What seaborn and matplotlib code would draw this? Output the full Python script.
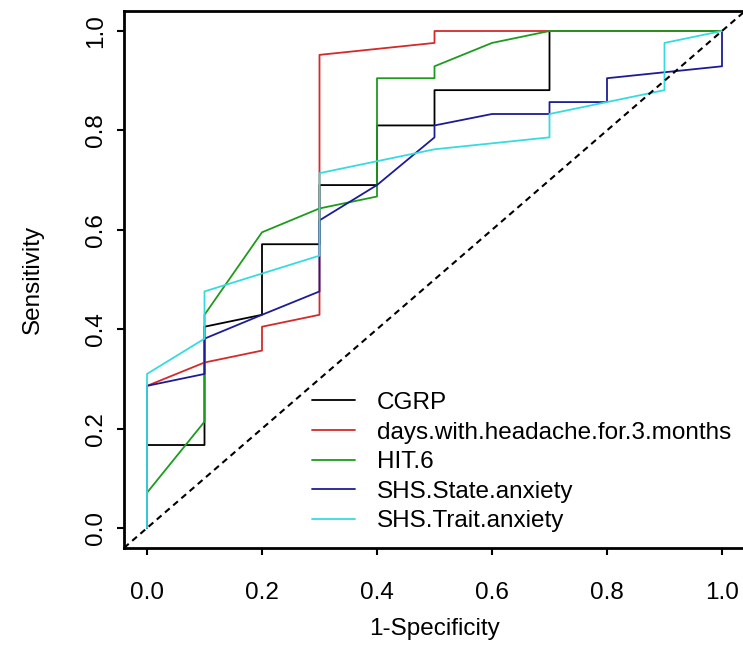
import pandas as pd
import seaborn as sns
import matplotlib
matplotlib.use("Agg")
import matplotlib.pyplot as plt

# ROC curves (1-specificity, sensitivity)
markers = ["CGRP", "days.with.headache.for.3.months", "HIT.6",
           "SHS.State.anxiety", "SHS.Trait.anxiety"]
colors = ["#000000", "#d42a2a", "#1e9b1e", "#1c1c96", "#36dcdc"]

cgrp_fpr = [0, 0, 0.1, 0.1, 0.2, 0.2, 0.3, 0.3, 0.4, 0.4, 0.5, 0.5, 0.7, 0.7, 1.0]
cgrp_tpr = [0, 0.167, 0.167, 0.405, 0.429, 0.571, 0.571, 0.690, 0.690, 0.810, 0.810, 0.881, 0.881, 1.0, 1.0]

days_fpr = [0, 0, 0.1, 0.2, 0.2, 0.3, 0.3, 0.5, 0.5, 1.0]
days_tpr = [0, 0.286, 0.333, 0.357, 0.405, 0.429, 0.952, 0.976, 1.0, 1.0]

hit_fpr = [0, 0, 0.1, 0.1, 0.2, 0.3, 0.4, 0.4, 0.5, 0.5, 0.6, 0.7, 1.0]
hit_tpr = [0, 0.071, 0.214, 0.429, 0.595, 0.643, 0.667, 0.905, 0.905, 0.929, 0.976, 1.0, 1.0]

state_fpr = [0, 0, 0.1, 0.1, 0.2, 0.3, 0.3, 0.4, 0.5, 0.5, 0.6, 0.7, 0.7, 0.8, 0.8, 1.0, 1.0]
state_tpr = [0, 0.286, 0.310, 0.381, 0.429, 0.476, 0.619, 0.690, 0.786, 0.810, 0.833, 0.833, 0.857, 0.857, 0.905, 0.929, 1.0]

trait_fpr = [0, 0, 0.1, 0.1, 0.3, 0.3, 0.5, 0.7, 0.7, 0.9, 0.9, 1.0]
trait_tpr = [0, 0.310, 0.381, 0.476, 0.548, 0.714, 0.762, 0.786, 0.833, 0.881, 0.976, 1.0]

ticks = [0.0, 0.2, 0.4, 0.6, 0.8, 1.0]

all_fpr = [cgrp_fpr, days_fpr, hit_fpr, state_fpr, trait_fpr]
all_tpr = [cgrp_tpr, days_tpr, hit_tpr, state_tpr, trait_tpr]
frames = []
for name, f, t in zip(markers, all_fpr, all_tpr):
    frames.append(pd.DataFrame({"fpr": f, "tpr": t, "marker": name}))
df = pd.concat(frames, ignore_index=True)

sns.set_style("ticks", {"text.color": "black", "axes.labelcolor": "black",
                        "xtick.color": "black", "ytick.color": "black",
                        "axes.edgecolor": "black"})
plt.rcParams["font.family"] = ["Liberation Sans", "DejaVu Sans"]
fs = 17.5

fig = plt.figure(figsize=(7.43, 6.64), dpi=100)
ax = fig.add_axes([0.16689, 0.17485, 0.8358, 0.8084])

sns.lineplot(data=df, x="fpr", y="tpr", hue="marker", hue_order=markers,
             palette=colors, estimator=None, sort=False, linewidth=1.3, ax=ax)
ax.axline((0, 0), (1, 1), color="black", linestyle=(0, (3, 2.2)), linewidth=1.5)

ax.set_xlim(-0.04, 1.04)
ax.set_ylim(-0.04, 1.04)
ax.set_xticks(ticks)
ax.set_yticks(ticks)
ax.set_xticklabels([f"{v:.1f}" for v in ticks], fontsize=fs)
ax.set_yticklabels([f"{v:.1f}" for v in ticks], fontsize=fs, rotation=90, va="center")
ax.tick_params(axis="x", length=5, width=1.5, pad=19.5)
ax.tick_params(axis="y", length=5, width=1.5, pad=7)
for s in ax.spines.values():
    s.set_linewidth(2)
    s.set_visible(True)
ax.set_xlabel("1-Specificity", fontsize=fs, labelpad=10)
ax.set_ylabel("Sensitivity", fontsize=fs, labelpad=30)

sns.move_legend(ax, "upper left", bbox_to_anchor=(0.3027, 0.2905), frameon=False,
                title=None, fontsize=fs, handlelength=1.77, handletextpad=0.9,
                labelspacing=0.31, borderpad=0, borderaxespad=0)

plt.savefig("out.png", dpi=100)
